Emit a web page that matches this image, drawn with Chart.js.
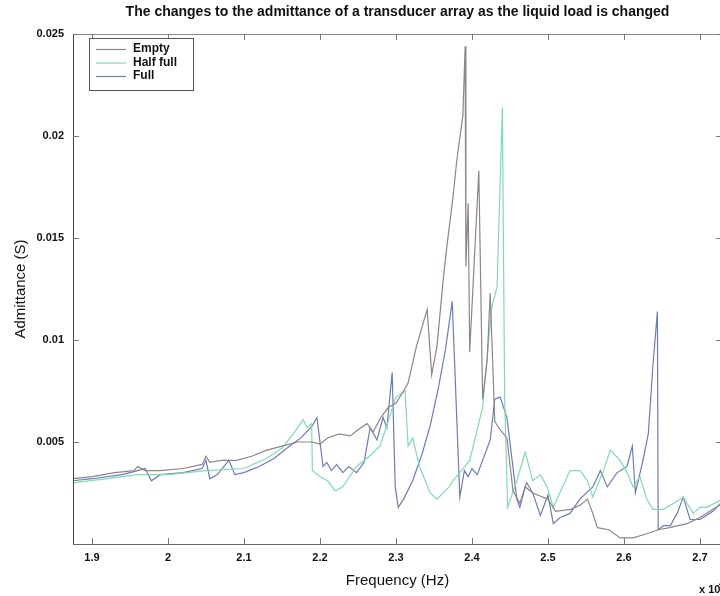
<!DOCTYPE html>
<html>
<head>
<meta charset="utf-8">
<script src="https://cdn.jsdelivr.net/npm/chart.js@4.4.1/dist/chart.umd.min.js"></script>
<style>
    html, body { margin: 0; padding: 0; background: #fff; overflow: hidden; }
    #wrap { width: 724px; height: 596px; }
</style>
</head>
<body>
<div id="wrap"><canvas id="graficoAdmitancia" width="724" height="596"></canvas></div>
<script>
// frequencies in units of 10^4 Hz, admittance in S
const emptyFreq = [1.875,1.90,1.93,1.955,1.96,1.97,1.99,2.02,2.045,2.05,2.055,2.07,2.09,2.11,2.13,2.15,2.17,2.19,2.20,2.21,2.225,2.24,2.25,2.262,2.27,2.28,2.29,2.30,2.31,2.316,2.327,2.341,2.347,2.354,2.362,2.367,2.375,2.380,2.388,2.391,2.392,2.395,2.397,2.409,2.414,2.42,2.424,2.43,2.437,2.446,2.454,2.463,2.472,2.48,2.50,2.51,2.53,2.542,2.552,2.559,2.565,2.58,2.595,2.612,2.63,2.645,2.66,2.683,2.70,2.717,2.73];
const emptyAdm = [0.0032,0.0033,0.0035,0.0036,0.0038,0.0036,0.0036,0.0037,0.0039,0.0043,0.0040,0.0041,0.0041,0.0043,0.0046,0.0048,0.0050,0.0050,0.0049,0.0052,0.0054,0.0053,0.0056,0.0059,0.0055,0.0062,0.0067,0.0069,0.0075,0.0079,0.0097,0.0115,0.0083,0.0097,0.0129,0.0146,0.0170,0.0188,0.0210,0.0244,0.0136,0.0167,0.0094,0.0183,0.0071,0.0090,0.0123,0.0060,0.0056,0.0052,0.0026,0.0020,0.0030,0.0025,0.0022,0.0016,0.0017,0.0019,0.0022,0.0015,0.0008,0.0007,0.0003,0.0003,0.0005,0.0007,0.0008,0.0010,0.0013,0.0017,0.0020];

const halfFreq = [1.875,1.92,1.96,2.00,2.05,2.10,2.13,2.15,2.165,2.178,2.183,2.189,2.190,2.20,2.21,2.22,2.23,2.248,2.265,2.279,2.30,2.312,2.316,2.322,2.331,2.345,2.354,2.37,2.375,2.397,2.414,2.426,2.433,2.440,2.443,2.447,2.459,2.470,2.480,2.49,2.499,2.507,2.529,2.542,2.552,2.559,2.573,2.582,2.595,2.604,2.612,2.621,2.630,2.638,2.652,2.670,2.678,2.691,2.70,2.709,2.73];
const halfAdm = [0.0030,0.0032,0.0034,0.0034,0.0036,0.0037,0.0042,0.0047,0.0054,0.0061,0.0057,0.0059,0.0036,0.0033,0.0031,0.0026,0.0028,0.0038,0.0043,0.0048,0.0072,0.0075,0.0048,0.0052,0.0038,0.0025,0.0022,0.0028,0.0031,0.0041,0.0067,0.0116,0.0126,0.0214,0.0072,0.0018,0.0031,0.0045,0.0031,0.0034,0.0028,0.0018,0.0036,0.0036,0.0031,0.0023,0.0036,0.0046,0.0041,0.0035,0.0028,0.0033,0.0022,0.0017,0.0017,0.0021,0.0023,0.0015,0.0018,0.0018,0.0022];

const fullFreq = [1.875,1.90,1.94,1.96,1.97,1.978,1.99,2.02,2.045,2.05,2.055,2.065,2.08,2.088,2.10,2.12,2.14,2.16,2.175,2.19,2.196,2.204,2.209,2.215,2.222,2.23,2.238,2.248,2.258,2.266,2.275,2.283,2.288,2.295,2.299,2.303,2.31,2.322,2.335,2.345,2.355,2.365,2.374,2.384,2.39,2.395,2.40,2.407,2.414,2.424,2.430,2.437,2.446,2.459,2.463,2.47,2.48,2.49,2.50,2.507,2.516,2.529,2.542,2.559,2.569,2.578,2.591,2.604,2.611,2.615,2.625,2.632,2.638,2.644,2.645,2.652,2.661,2.670,2.678,2.687,2.70,2.717,2.73];
const fullAdm = [0.0031,0.0032,0.0034,0.0036,0.0037,0.0031,0.0034,0.0035,0.0037,0.0041,0.0032,0.0034,0.0041,0.0034,0.0035,0.0038,0.0042,0.0048,0.0052,0.0058,0.0062,0.0038,0.0040,0.0036,0.0039,0.0035,0.0038,0.0035,0.0040,0.0057,0.0051,0.0062,0.0057,0.0084,0.0028,0.0018,0.0022,0.0031,0.0045,0.0058,0.0075,0.0095,0.0119,0.0023,0.0036,0.0033,0.0037,0.0034,0.0041,0.0051,0.0071,0.0072,0.0062,0.0022,0.0018,0.0028,0.0025,0.0014,0.0024,0.0010,0.0013,0.0015,0.0022,0.0028,0.0036,0.0028,0.0035,0.0038,0.0048,0.0025,0.0041,0.0054,0.0087,0.0114,0.0007,0.0009,0.0009,0.0015,0.0023,0.0012,0.0012,0.0016,0.0021];

const xTicks = [1.9, 2.0, 2.1, 2.2, 2.3, 2.4, 2.5, 2.6, 2.7];
const xTickLabels = ['1.9', '2', '2.1', '2.2', '2.3', '2.4', '2.5', '2.6', '2.7'];
const yTicks = [0.005, 0.01, 0.015, 0.02, 0.025];
const yTickLabels = ['0.005', '0.01', '0.015', '0.02', '0.025'];

const seriesNames = ['Empty', 'Half full', 'Full'];
const seriesColors = ['#8f8589', '#7fdcb2', '#6c7cb6'];

const fonte = "'Liberation Sans', Arial, sans-serif";

function pares(freq, adm) {
    return freq.map((f, i) => ({ x: f, y: adm[i] }));
}

// axes box with inward ticks, legend box and the exponent label
const moldura = {
    id: 'moldura',
    afterDraw(chart) {
        const { ctx, chartArea: a } = chart;
        const x = chart.scales.x;
        const y = chart.scales.y;
        ctx.save();
        ctx.lineWidth = 1;

        ctx.strokeStyle = '#8a8a8a';
        ctx.beginPath();
        ctx.moveTo(a.left, a.top + 0.5);
        ctx.lineTo(a.right, a.top + 0.5);
        ctx.stroke();

        ctx.strokeStyle = '#444';
        ctx.beginPath();
        ctx.moveTo(a.left + 0.5, a.top);
        ctx.lineTo(a.left + 0.5, a.bottom);
        ctx.stroke();
        ctx.strokeStyle = '#666';
        ctx.beginPath();
        ctx.moveTo(a.left, a.bottom + 0.5);
        ctx.lineTo(a.right, a.bottom + 0.5);
        ctx.stroke();

        ctx.strokeStyle = '#777';
        ctx.beginPath();
        xTicks.forEach(v => {
            const px = Math.round(x.getPixelForValue(v)) + 0.5;
            ctx.moveTo(px, a.bottom);
            ctx.lineTo(px, a.bottom - 6);
            ctx.moveTo(px, a.top);
            ctx.lineTo(px, a.top + 6);
        });
        yTicks.forEach(v => {
            const py = Math.round(y.getPixelForValue(v)) + 0.5;
            ctx.moveTo(a.left, py);
            ctx.lineTo(a.left + 6, py);
            ctx.moveTo(a.right, py);
            ctx.lineTo(a.right - 6, py);
        });
        ctx.stroke();

        // legend
        const lx = 89, ly = 38, lw = 104, lh = 52;
        ctx.fillStyle = '#fff';
        ctx.fillRect(lx, ly, lw, lh);
        ctx.strokeStyle = '#555';
        ctx.strokeRect(lx + 0.5, ly + 0.5, lw, lh);
        ctx.font = 'bold 12px ' + fonte;
        ctx.textBaseline = 'middle';
        seriesNames.forEach((nome, i) => {
            const yy = ly + 11 + i * 13.5;
            ctx.strokeStyle = seriesColors[i];
            ctx.lineWidth = 1.2;
            ctx.beginPath();
            ctx.moveTo(lx + 7, yy + 0.5);
            ctx.lineTo(lx + 37, yy + 0.5);
            ctx.stroke();
            ctx.fillStyle = '#111';
            ctx.fillText(nome, lx + 44, yy);
        });

        // exponent of the x axis
        ctx.font = 'bold 11px ' + fonte;
        ctx.fillStyle = '#111';
        ctx.textBaseline = 'alphabetic';
        ctx.fillText('x 10', 699, 593);
        ctx.font = 'bold 8px ' + fonte;
        ctx.fillText('4', 719, 586);
        ctx.restore();
    }
};

const ctx = document.getElementById('graficoAdmitancia').getContext('2d');

new Chart(ctx, {
    type: 'line',
    data: {
        datasets: [
            { label: seriesNames[0], data: pares(emptyFreq, emptyAdm), borderColor: seriesColors[0] },
            { label: seriesNames[1], data: pares(halfFreq, halfAdm), borderColor: seriesColors[1] },
            { label: seriesNames[2], data: pares(fullFreq, fullAdm), borderColor: seriesColors[2] }
        ]
    },
    options: {
        responsive: false,
        animation: false,
        parsing: false,
        elements: {
            line: { borderWidth: 1.2, tension: 0, fill: false },
            point: { radius: 0 }
        },
        layout: { padding: { top: 0, right: 2, left: 0, bottom: 0 } },
        plugins: {
            legend: { display: false },
            tooltip: { enabled: false },
            title: {
                display: true,
                fullSize: false,
                text: 'The changes to the admittance of a transducer array as the liquid load is changed',
                color: '#111',
                font: { family: fonte, size: 14, weight: 'bold' },
                padding: { top: 4, bottom: 13.2 }
            }
        },
        scales: {
            x: {
                type: 'linear',
                min: 1.875,
                max: 2.729,
                afterBuildTicks: s => { s.ticks = xTicks.map(v => ({ value: v })); },
                afterFit: s => { s.height = 52; },
                grid: { display: false, drawTicks: false },
                border: { display: false },
                ticks: {
                    autoSkip: false,
                    maxRotation: 0,
                    padding: 7,
                    color: '#111',
                    font: { family: fonte, size: 11, weight: 'bold' },
                    callback: (v, i) => xTickLabels[i]
                },
                title: {
                    display: true,
                    text: 'Frequency (Hz)',
                    color: '#111',
                    font: { family: fonte, size: 15 },
                    padding: { top: 0, bottom: 6 }
                }
            },
            y: {
                type: 'linear',
                min: 0,
                max: 0.025,
                afterBuildTicks: s => { s.ticks = yTicks.map(v => ({ value: v })); },
                afterFit: s => { s.width = 73; },
                grid: { display: false, drawTicks: false },
                border: { display: false },
                ticks: {
                    padding: 9,
                    color: '#111',
                    font: { family: fonte, size: 11, weight: 'bold' },
                    callback: (v, i) => yTickLabels[i]
                },
                title: {
                    display: true,
                    text: 'Admittance (S)',
                    color: '#111',
                    font: { family: fonte, size: 15 },
                    padding: { top: 12, bottom: 0 }
                }
            }
        }
    },
    plugins: [moldura]
});
</script>
</body>
</html>
